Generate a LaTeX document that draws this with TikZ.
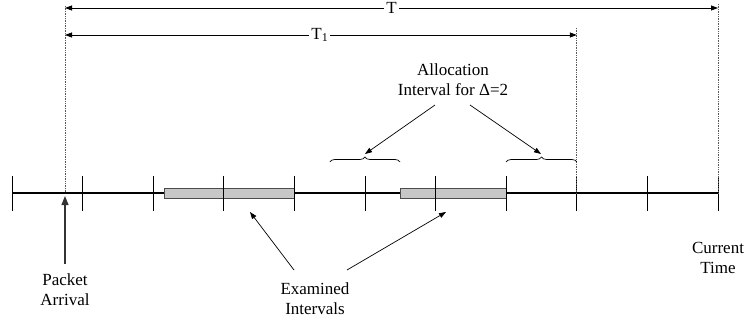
\documentclass[tikz,border=0pt]{standalone}
\usepackage{fontspec}
\setmainfont{Liberation Serif}
\usetikzlibrary{arrows.meta,decorations.pathreplacing}
\begin{document}
\begin{tikzpicture}[x=1pt,y=-1pt,
  lbl/.style={font=\fontsize{17}{20}\selectfont,align=center,inner sep=1pt},
  tick/.style={line width=0.9pt},
  guide/.style={densely dotted,line width=0.7pt,gray!70!black},
  span/.style={line width=0.8pt,{Triangle[length=7pt,width=5pt]}-{Triangle[length=7pt,width=5pt]}},
  pointer/.style={line width=0.7pt,-{Triangle[length=7pt,width=5pt]}},
  exam/.style={draw=black!70,line width=0.8pt,fill=black!22},
  brc/.style={decorate,decoration={brace,amplitude=5pt},line width=0.7pt}]
\useasboundingbox (0,0) rectangle (746,323);

% time axis and ticks
\coordinate (axL) at (12,193);
\coordinate (axR) at (718,193);
\draw[line width=2.5pt] (axL) -- (axR);
\foreach \i in {0,...,10} {
  \draw[tick] ({12+70.6*\i},176) -- ({12+70.6*\i},211);
}

% examined intervals
\node[exam,minimum width=130pt,minimum height=10.5pt,inner sep=0pt] (ex1) at (229,193.5) {};
\node[exam,minimum width=106pt,minimum height=10.5pt,inner sep=0pt] (ex2) at (453,193.5) {};
\draw[tick] (223.6,176) -- (223.6,211);
\draw[tick] (435.6,176) -- (435.6,211);
\draw[tick] (294.4,176) -- (294.4,211);
\draw[tick] (506.2,176) -- (506.2,211);

% guide lines
\coordinate (pa) at (65,193);
\coordinate (t1end) at (576.8,193);
\coordinate (ct) at (718,193);
\coordinate (paTop) at (65,6);
\coordinate (t1Top) at (576.8,28);
\coordinate (ctTop) at (718,4);
\draw[guide] (paTop) -- (pa);
\draw[guide] (t1Top) -- (t1end);
\draw[guide] (ctTop) -- (ct);

% spans T and T1
\coordinate (TL) at (65,8);
\coordinate (TR) at (718,8);
\coordinate (T1L) at (65,35);
\coordinate (T1R) at (576.8,35);
\draw[span] (TL) -- node[lbl,fill=white,inner xsep=2pt] (tl) {T} (TR);
\draw[span] (T1L) -- node[lbl,fill=white,inner xsep=2pt,xshift=-1pt] (t1l) {T\textsubscript{1}} (T1R);

% allocation braces
\draw[brc] (329.8,162) -- (400,162);
\draw[brc] (506.2,162) -- (576.8,162);
\coordinate (b1tip) at (365,154);
\coordinate (b2tip) at (541,154);

% labels
\node[lbl] (alloc) at (453,80) {Allocation\\Interval for Δ=2};
\node[lbl] (pkt) at (65,290) {Packet\\Arrival};
\node[lbl] (examined) at (315,299) {Examined\\Intervals};
\node[lbl] (cur) at (718,258) {Current\\Time};

% pointers
\coordinate (a1s) at (435,105);
\coordinate (a2s) at (470,105);
\draw[pointer] (a1s) -- (b1tip);
\draw[pointer] (a2s) -- (b2tip);
\coordinate (e1s) at (294,270);
\coordinate (e1t) at (250,212);
\coordinate (e2s) at (347,270);
\coordinate (e2t) at (446,212);
\draw[pointer] (e1s) -- (e1t);
\draw[pointer] (e2s) -- (e2t);
\coordinate (pks) at (65,264);
\coordinate (pkt2) at (65,196);
\draw[line width=1.2pt,black!80,-{Triangle[length=9pt,width=7pt]}] (pks) -- (pkt2);
\end{tikzpicture}
\end{document}
